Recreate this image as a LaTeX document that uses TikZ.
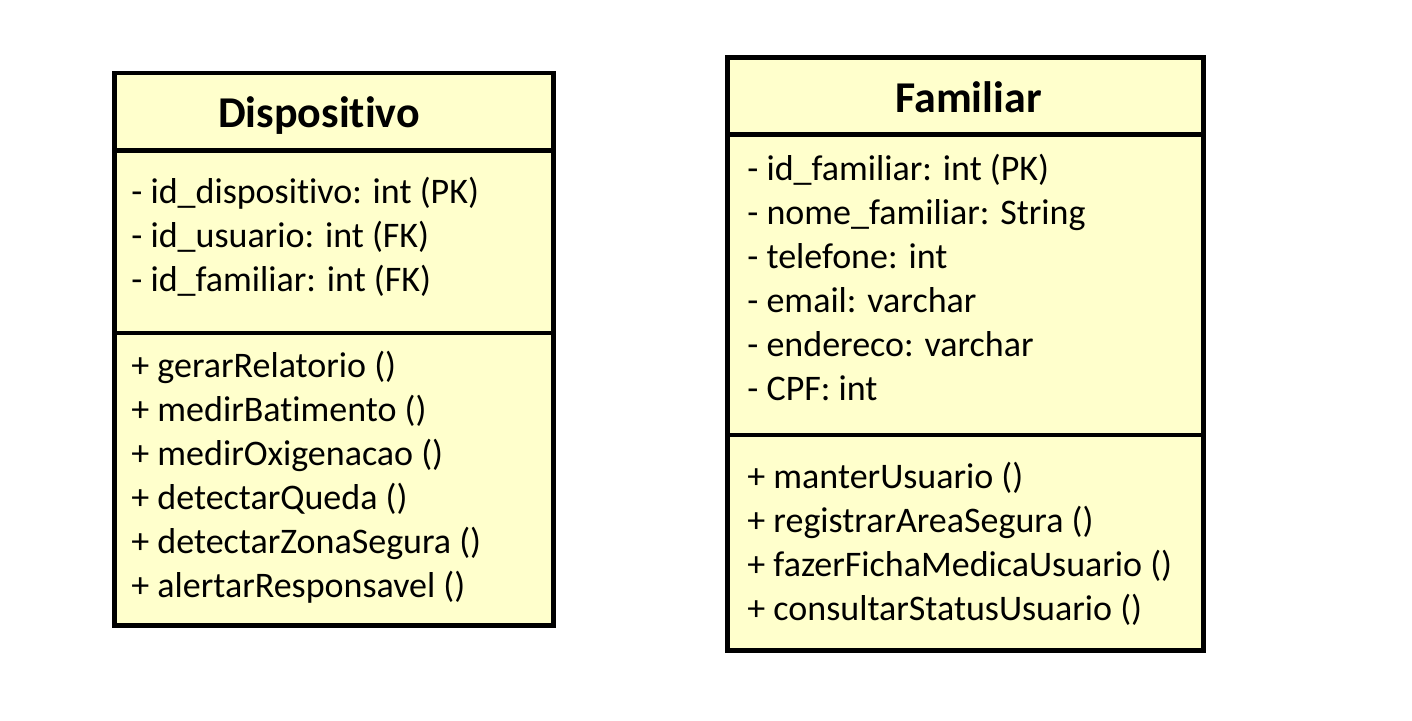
\documentclass[tikz,border=0pt]{standalone}
\usepackage{fontspec}
\setmainfont{Carlito}[Ligatures={NoCommon,NoContextual}]
\usetikzlibrary{positioning}
\definecolor{umlfill}{HTML}{FFFFCC}
\tikzset{
  section/.style={draw=black, fill=umlfill, line width=2.3pt, inner sep=0pt, outer sep=0pt},
  classname/.style={font=\fontsize{22}{26}\selectfont\bfseries, anchor=base, inner sep=0pt},
  member/.style={font=\fontsize{18}{22}\selectfont, anchor=base west, inner sep=0pt},
}
\begin{document}
\begin{tikzpicture}[x=0.5pt,y=-0.5pt]
\useasboundingbox (0,0) rectangle (1412,720);
% Dispositivo
\node[section, minimum width=219.5pt, minimum height=38.75pt] (dtitle) at (334,111.75) {};
\node[section, minimum width=219.5pt, minimum height=91.25pt] (dattrs) at (334,241.75) {};
\node[section, minimum width=219.5pt, minimum height=146.25pt] (dops) at (334,479.25) {};
\node[classname] (dname) at (319,127) {Dispositivo};
\foreach \m [count=\i] in {- id\_dispositivo: int (PK), - id\_usuario: int (FK), - id\_familiar: int (FK)}
  \node[member] (dattr\i) at (131,{203+44*(\i-1)}) {\m};
\foreach \m [count=\i] in {+ gerarRelatorio (), + medirBatimento (), + medirOxigenacao (), + detectarQueda (), + detectarZonaSegura (), + alertarResponsavel ()}
  \node[member] (dop\i) at (131,{377+44*(\i-1)}) {\m};
% Familiar
\node[section, minimum width=238pt, minimum height=38.5pt] (ftitle) at (965.5,96) {};
\node[section, minimum width=238pt, minimum height=150.25pt] (fattrs) at (965.5,284.75) {};
\node[section, minimum width=238pt, minimum height=107.75pt] (fops) at (965.5,542.75) {};
\node[classname] (fname) at (968.5,112) {Familiar};
\foreach \m [count=\i] in {- id\_familiar: int (PK), - nome\_familiar: String, - telefone: int, - email: varchar, - endereco: varchar, - CPF: int}
  \node[member] (fattr\i) at (747,{180+44*(\i-1)}) {\m};
\foreach \m [count=\i] in {+ manterUsuario (), + registrarAreaSegura (), + fazerFichaMedicaUsuario (), + consultarStatusUsuario ()}
  \node[member] (fop\i) at (747,{488+44*(\i-1)}) {\m};
\end{tikzpicture}
\end{document}
